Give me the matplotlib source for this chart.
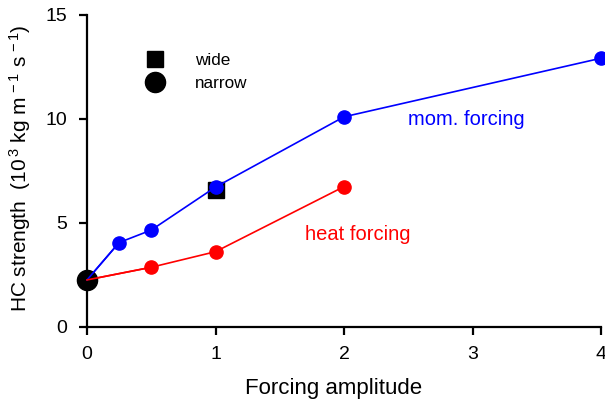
import matplotlib
matplotlib.use('Agg')
import matplotlib.pyplot as plt
from matplotlib.lines import Line2D

plt.rcParams['font.family'] = ['Liberation Sans', 'DejaVu Sans']
plt.rcParams['mathtext.fontset'] = 'custom'
plt.rcParams['mathtext.rm'] = 'Liberation Sans'
plt.rcParams['mathtext.it'] = 'Liberation Sans'

# momentum forcing runs
mom_amp = [0, 0.25, 0.5, 1, 2, 4]
mom_hc = [2.25, 4.05, 4.65, 6.72, 10.1, 12.92]

# heat forcing runs
heat_amp = [0, 0.5, 1, 2]
heat_hc = [2.25, 2.86, 3.61, 6.74]

# jet width experiments
wide_amp = [1]
wide_hc = [6.58]
narrow_amp = [0]
narrow_hc = [2.25]

x_ticks = [0, 1, 2, 3, 4]
y_ticks = [0, 5, 10, 15]

fig = plt.figure(figsize=(6.05, 4.01), dpi=100)
ax = fig.add_axes([87 / 605, 1 - 326.7 / 401, 514 / 605, 311.7 / 401])

ax.plot(wide_amp, wide_hc, 's', color='black', ms=12, clip_on=False, zorder=3)
ax.plot(mom_amp, mom_hc, '-o', color='blue', lw=1.2, ms=9.5, clip_on=False, zorder=4)
ax.plot(heat_amp, heat_hc, '-o', color='red', lw=1.2, ms=9.5, clip_on=False, zorder=4)
ax.plot(narrow_amp, narrow_hc, 'o', color='black', ms=14.5, clip_on=False, zorder=5)
# redraw line ends on top of the big circle
ax.plot(mom_amp[:2], mom_hc[:2], '-', color='blue', lw=1.2, zorder=6, clip_on=False)
ax.plot(heat_amp[:2], heat_hc[:2], '-', color='red', lw=1.2, zorder=6, clip_on=False)

ax.text(2.5, 9.95, 'mom. forcing', color='blue', fontsize=14.5, va='center', ha='left')
ax.text(1.7, 4.46, 'heat forcing', color='red', fontsize=14.5, va='center', ha='left')

handles = [Line2D([], [], marker='s', ls='none', color='black', ms=12),
           Line2D([], [], marker='o', ls='none', color='black', ms=14.5)]
ax.legend(handles, ['wide', 'narrow'], loc='upper left', bbox_to_anchor=(0.09, 0.905),
          frameon=False, fontsize=12.3, handletextpad=1.6, labelspacing=0.45,
          borderpad=0, handlelength=1.5)

ax.set_xlim(0, 4)
ax.set_ylim(0, 15)
ax.set_xticks(x_ticks)
ax.set_yticks(y_ticks)
ax.spines['top'].set_visible(False)
ax.spines['right'].set_visible(False)
for side in ['left', 'bottom']:
    ax.spines[side].set_linewidth(1.6)
ax.tick_params(width=1.6, length=6, labelsize=14, pad=8)

ax.set_xlabel('Forcing amplitude', fontsize=16)
ax.xaxis.set_label_coords(0.4805, -0.163)
ax.set_ylabel('HC strength  (10$^{\\,3}$ kg m$^{\\,-1}$ s$^{\\,-1}$)', fontsize=15)
ax.yaxis.set_label_coords(-0.105, 0.51)

fig.savefig('out.png', dpi=100)
